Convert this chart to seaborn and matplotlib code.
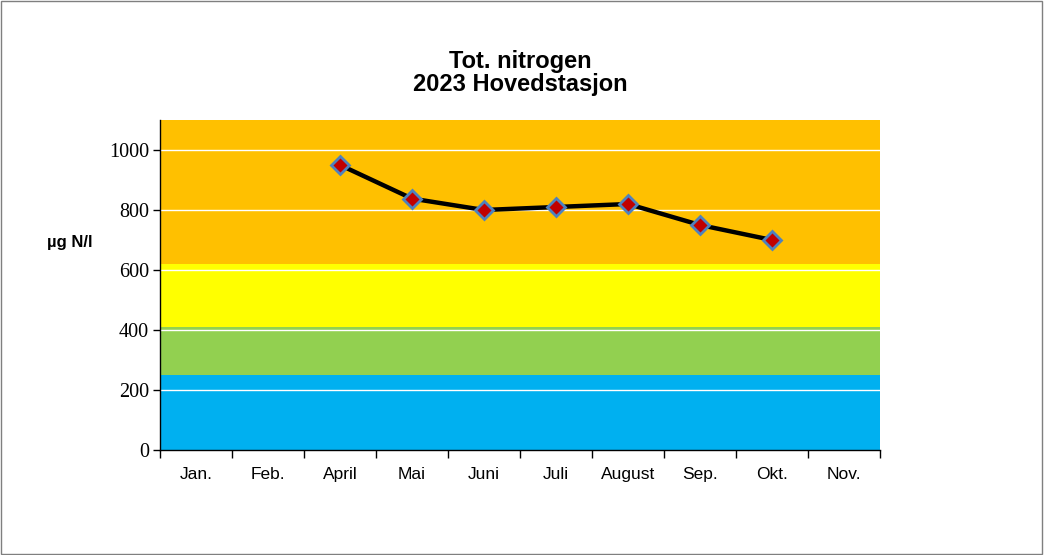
import numpy as np
import pandas as pd
import matplotlib
matplotlib.use("Agg")
import matplotlib.pyplot as plt
import seaborn as sns
from matplotlib.patches import Rectangle

months = ["Jan.", "Feb.", "April", "Mai", "Juni", "Juli", "August", "Sep.", "Okt.", "Nov."]
tot_n = [np.nan, np.nan, 950, 838, 800, 810, 820, 750, 700, np.nan]

# Quality class limits (µg N/l) and colours
band_edges = [0, 250, 410, 620, 1100]
band_colors = ["#00B0F0", "#92D050", "#FFFF00", "#FFC000"]
y_ticks = [0, 200, 400, 600, 800, 1000]

sns.set_style("white")
plt.rcParams["font.family"] = ["Liberation Sans", "DejaVu Sans"]
plt.rcParams["text.color"] = "black"
plt.rcParams["xtick.color"] = "black"
plt.rcParams["ytick.color"] = "black"

fig = plt.figure(figsize=(10.44, 5.55), dpi=100)
fig.patches.append(Rectangle((0.001, 0.001), 0.997, 0.997, transform=fig.transFigure,
                             fill=False, edgecolor="#7f7f7f", linewidth=1.0))
ax = fig.add_axes([160 / 1044, 1 - 450 / 555, 720 / 1044, 330 / 555])

n = len(months)
for lo, hi, c in zip(band_edges[:-1], band_edges[1:], band_colors):
    ax.axhspan(lo, hi, color=c, zorder=0, linewidth=0)
for yv in y_ticks[1:]:
    ax.axhline(yv, color="white", linewidth=1.0, zorder=1)

df = pd.DataFrame({"x": np.arange(n) + 0.5, "month": months, "value": tot_n})
sns.lineplot(data=df.dropna(), x="x", y="value", ax=ax, color="black", linewidth=3.2,
             marker="D", markersize=9, markerfacecolor="#C00000",
             markeredgecolor="#4F81BD", markeredgewidth=2, zorder=3)

ax.set_xlim(0, n)
ax.set_ylim(0, band_edges[-1])
ax.set_xticks(np.arange(n) + 0.5)
ax.set_xticklabels(months, fontsize=12.5, va="baseline")
ax.set_xticks(np.arange(n + 1), minor=True)
ax.tick_params(axis="x", which="major", bottom=False, length=0, pad=21)
ax.tick_params(axis="x", which="minor", bottom=True, length=6, width=1,
               color="black", direction="out")
ax.set_yticks(y_ticks)
ax.set_yticklabels([str(v) for v in y_ticks], fontsize=14.5, family="Liberation Serif")
ax.tick_params(axis="y", left=True, length=5, width=1, color="black", direction="out", pad=3)

for side in ["top", "right"]:
    ax.spines[side].set_visible(False)
for side in ["left", "bottom"]:
    ax.spines[side].set_color("black")
    ax.spines[side].set_linewidth(1.0)

ax.set_xlabel("")
ax.set_ylabel("")
fig.text(47 / 1044, 1 - 243 / 555, "µg N/l", fontsize=12, fontweight="bold",
         ha="left", va="center", color="black")
fig.text(520 / 1044, 1 - 73 / 555, "Tot. nitrogen\n2023 Hovedstasjon", fontsize=17,
         fontweight="bold", ha="center", va="center", linespacing=1.0, color="black")

fig.savefig("out.png", dpi=100)
